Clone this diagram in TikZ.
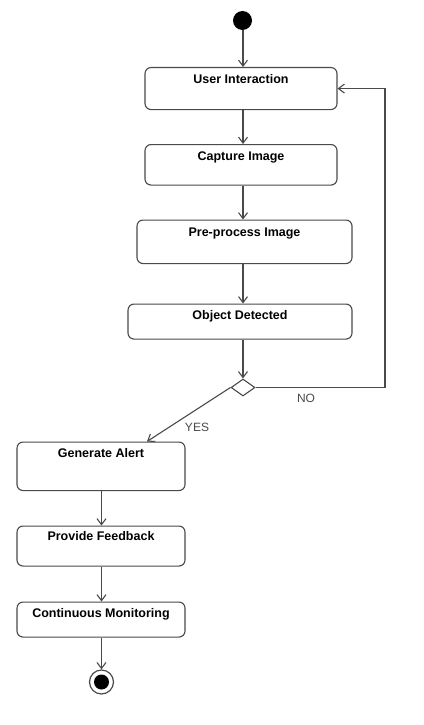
\documentclass[tikz,border=0pt]{standalone}
\usepackage{fontspec}
\setmainfont{Liberation Sans}
\usetikzlibrary{arrows.meta,shapes.geometric}
\definecolor{linec}{HTML}{4A4A4A}
\begin{document}
\begin{tikzpicture}[x=1pt,y=-1pt,
  act/.style={draw=linec, line width=1.1pt, rounded corners=6pt, fill=white,
    inner xsep=0pt, inner ysep=0pt, anchor=north,
    font=\fontsize{12.5}{14}\selectfont\bfseries},
  arr/.style={draw=linec, line width=1.1pt, -{Straight Barb[length=6pt,width=9pt]}},
  lbl/.style={font=\fontsize{12}{14}\selectfont, text=linec, inner sep=0pt}]
\useasboundingbox[fill=white] (0,0) rectangle (423,725);

\node (start) [circle, fill=black, minimum size=19pt, inner sep=0pt] at (242.5,20.5) {};

\node (ui)  [act, minimum width=192pt, text height=16pt, text depth=26pt] at (241,67) {User Interaction};
\node (cap) [act, minimum width=192pt, text height=15.5pt, text depth=25pt] at (241,144) {Capture Image};
\node (pre) [act, minimum width=215pt, text height=16.5pt, text depth=27pt] at (244.5,219.5) {Pre-process Image};
\node (obj) [act, minimum width=224pt, text height=15pt, text depth=20pt] at (240,303.5) {Object Detected};

\node (dec) [diamond, draw=linec, line width=1.1pt, fill=white, aspect=1.5,
  minimum width=24pt, minimum height=17pt, inner sep=0pt] at (243,387.5) {};

\node (ga) [act, minimum width=168pt, text height=15pt, text depth=33.5pt] at (101,441.5) {Generate Alert};
\node (pf) [act, minimum width=168pt, text height=14.5pt, text depth=25.5pt] at (101,525.5) {Provide Feedback};
\node (cm) [act, minimum width=168pt, text height=15pt, text depth=20pt] at (101,601.5) {Continuous Monitoring};

\node (end) [circle, draw=linec, line width=1.2pt, fill=white, minimum size=24pt, inner sep=0pt] at (101.5,682) {};
\node (endin) [circle, fill=black, minimum size=15pt, inner sep=0pt] at (end) {};

\coordinate (top) at (243,0);
\coordinate (bot) at (101.5,0);
\coordinate (nocorner) at (385,387.5);
\coordinate (yesend) at (147,441.5);

\draw[arr] (start.south -| top) -- (ui.north -| top);
\draw[arr] (ui.south -| top) -- (cap.north -| top);
\draw[arr] (cap.south -| top) -- (pre.north -| top);
\draw[arr] (pre.south -| top) -- (obj.north -| top);
\draw[arr] (obj.south -| top) -- (dec.north);
\draw[arr] (dec.east) -- (nocorner) |- (ui.east);
\draw[arr] (dec.west) -- (yesend);
\draw[arr] (ga.south -| bot) -- (pf.north -| bot);
\draw[arr] (pf.south -| bot) -- (cm.north -| bot);
\draw[arr] (cm.south -| bot) -- (end.north);

\node (no)  [lbl] at (306,398) {NO};
\node (yes) [lbl] at (197,427.5) {YES};
\end{tikzpicture}
\end{document}
